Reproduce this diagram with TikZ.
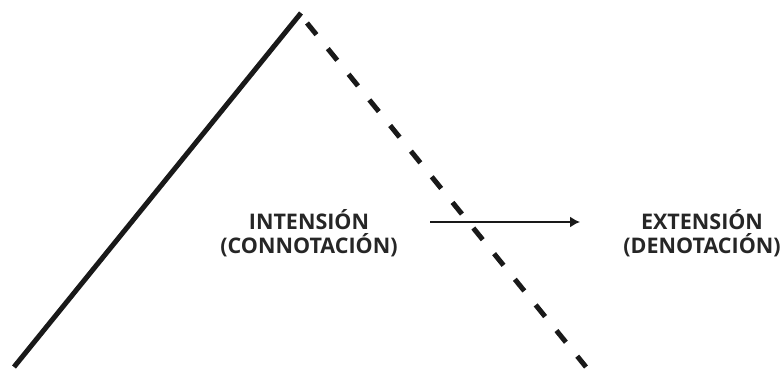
\documentclass[tikz,border=0pt]{standalone}
\usepackage{fontspec}
\setmainfont{Open Sans}
\usetikzlibrary{arrows.meta,positioning}

\begin{document}
\begin{tikzpicture}[x=1pt, y=-1pt,
      side/.style={line width=5pt, draw=black!90},
      dashside/.style={side, dash pattern=on 15pt off 18pt},
      term/.style={align=center, font=\fontsize{21.5}{23.5}\selectfont\bfseries,
        text=black!85, inner sep=0pt},
      arrow/.style={-{Latex[length=10pt, width=11pt]}, line width=1.7pt, draw=black!90}
    ]
      \useasboundingbox (0,0) rectangle (784,371);
      % the two sides of the triangle
      \coordinate (apex) at (301,13);
      \coordinate (foot) at (14,367);
      \coordinate (dstart) at (307,23);
      \coordinate (dend) at (586,367);
      \draw[side] (foot) -- (apex);
      \draw[dashside] (dstart) -- (dend);
      % labels
      \node[term] (int) at (309,233) {INTENSIÓN\\(CONNOTACIÓN)};
      \node[term] (ext) at (702,233) {EXTENSIÓN\\(DENOTACIÓN)};
      \coordinate (astart) at (430,222);
      \coordinate (aend) at (580,222);
      \draw[arrow] (astart) -- (aend);
    \end{tikzpicture}
\end{document}
